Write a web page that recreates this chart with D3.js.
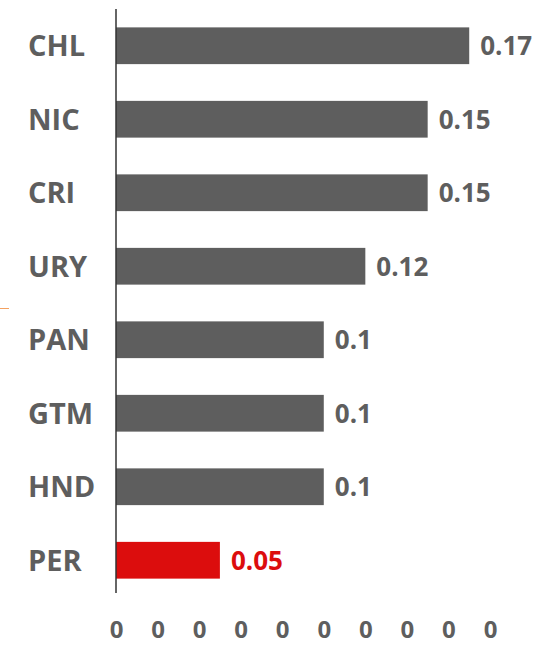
<!DOCTYPE html>
<html lang="en">
<head>
<meta charset="UTF-8">
<script src="https://d3js.org/d3.v7.min.js"></script>
<style>
    body { margin: 0; background: #fff; }
    text { font-family: "Open Sans", "Noto Sans", sans-serif; font-weight: 700; }
</style>
</head>
<body>
<div id="chart"></div>
<script>
const countries = ["CHL", "NIC", "CRI", "URY", "PAN", "GTM", "HND", "PER"];
const values = [0.17, 0.15, 0.15, 0.12, 0.1, 0.1, 0.1, 0.05];
const highlight = "PER";
const tickValues = [0, 0.02, 0.04, 0.06, 0.08, 0.1, 0.12, 0.14, 0.16, 0.18];

const width = 560, height = 645;
const grey = "#5e5e5e", red = "#dc0d0d";

const data = countries.map((c, i) => ({country: c, value: values[i]}));

const svg = d3.select("#chart").append("svg")
    .attr("width", width)
    .attr("height", height);

const x = d3.scaleLinear().domain([0, 0.18]).range([116, 490]);
const y = d3.scaleBand().domain(countries).range([9, 597])
    .paddingInner(0.5).paddingOuter(0.25);

// stray orange tick at left edge
svg.append("line")
    .attr("x1", 0).attr("x2", 9)
    .attr("y1", 308.5).attr("y2", 308.5)
    .attr("stroke", "#f4a261").attr("stroke-width", 1);

svg.selectAll(".bar")
    .data(data)
    .enter().append("rect")
    .attr("class", "bar")
    .attr("x", x(0))
    .attr("y", d => y(d.country))
    .attr("width", d => x(d.value) - x(0))
    .attr("height", y.bandwidth())
    .attr("fill", d => d.country === highlight ? red : grey);

svg.selectAll(".val")
    .data(data)
    .enter().append("text")
    .attr("class", "val")
    .attr("x", d => x(d.value) + 11)
    .attr("y", d => y(d.country) + y.bandwidth() / 2)
    .attr("dy", "0.36em")
    .attr("font-size", 26)
    .attr("fill", d => d.country === highlight ? red : grey)
    .text(d => d.value);

// category labels, left aligned
svg.selectAll(".cat")
    .data(data)
    .enter().append("text")
    .attr("class", "cat")
    .attr("x", 28)
    .attr("y", d => y(d.country) + y.bandwidth() / 2)
    .attr("dy", "0.36em")
    .attr("font-size", 29)
    .attr("fill", grey)
    .text(d => d.country);

// y axis line
svg.append("line")
    .attr("x1", x(0)).attr("x2", x(0))
    .attr("y1", 9).attr("y2", 593)
    .attr("stroke", "#333").attr("stroke-width", 1.5);

// x axis tick labels (formatted to integers, hence all "0")
const xAxis = svg.append("g")
    .attr("transform", "translate(0,621)")
    .call(d3.axisBottom(x).tickValues(tickValues).tickFormat(d3.format(".0f")).tickSize(0).tickPadding(0));
xAxis.select(".domain").remove();
xAxis.selectAll("text")
    .attr("font-size", 24)
    .attr("fill", grey)
    .style("font-family", "'Open Sans', 'Noto Sans', sans-serif")
    .style("font-weight", 700);
</script>
</body>
</html>
